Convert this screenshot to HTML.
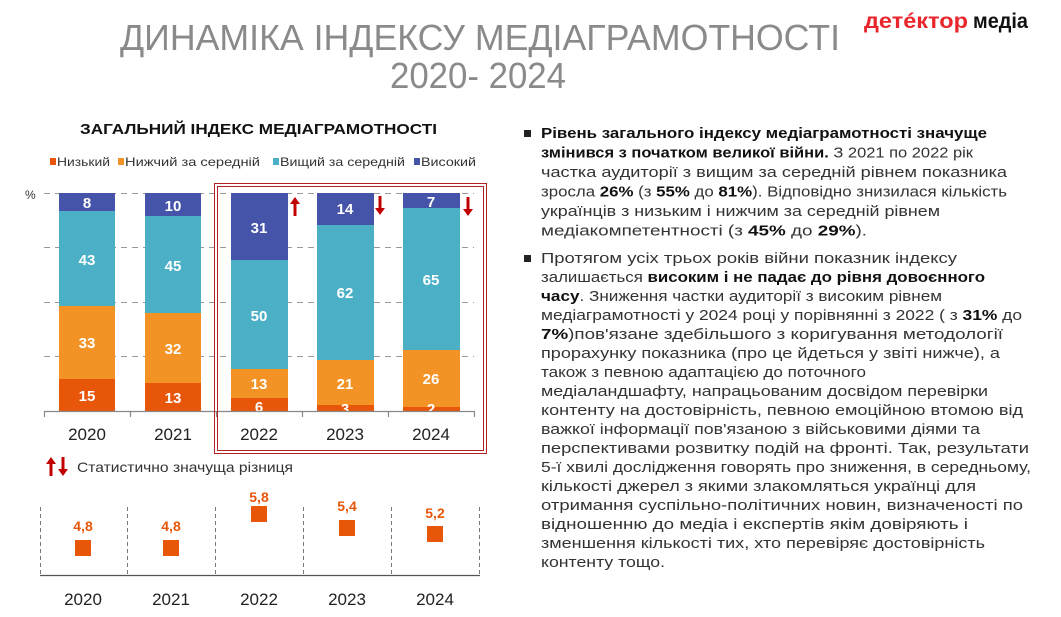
<!DOCTYPE html>
<html><head><meta charset="utf-8"><style>
html,body{margin:0;padding:0;background:#fff;}
svg{display:block;font-family:"Liberation Sans",sans-serif;}
</style></head><body>
<svg width="1061" height="617" viewBox="0 0 1061 617" xmlns="http://www.w3.org/2000/svg">
<!-- Title -->
<text x="120" y="50" font-size="36" fill="#8a8a8a" textLength="720" lengthAdjust="spacingAndGlyphs">ДИНАМІКА ІНДЕКСУ МЕДІАГРАМОТНОСТІ</text>
<text x="390" y="88" font-size="36" fill="#8a8a8a" textLength="176" lengthAdjust="spacingAndGlyphs">2020- 2024</text>
<text x="864" y="28" font-size="21" font-weight="bold" fill="#e8262b" textLength="104" lengthAdjust="spacingAndGlyphs">детéктор</text>
<text x="973" y="28" font-size="21" font-weight="bold" fill="#111" textLength="55" lengthAdjust="spacingAndGlyphs">медіа</text>

<text x="80" y="134" font-size="15" font-weight="bold" fill="#111" textLength="357" lengthAdjust="spacingAndGlyphs">ЗАГАЛЬНИЙ ІНДЕКС МЕДІАГРАМОТНОСТІ</text>
<!-- legend -->
<g font-size="12" fill="#333">
<rect x="50" y="158" width="6" height="7" fill="#e8560a"/><text x="57" y="166" textLength="53" lengthAdjust="spacingAndGlyphs">Низький</text>
<rect x="118" y="158" width="6" height="7" fill="#f39325"/><text x="125" y="166" textLength="135" lengthAdjust="spacingAndGlyphs">Нижчий за середній</text>
<rect x="273" y="158" width="6" height="7" fill="#4bb0c6"/><text x="280" y="166" textLength="125" lengthAdjust="spacingAndGlyphs">Вищий за середній</text>
<rect x="414" y="158" width="6" height="7" fill="#4553a8"/><text x="421" y="166" textLength="55" lengthAdjust="spacingAndGlyphs">Високий</text>
</g>
<text x="25" y="199" font-size="12" fill="#333">%</text>
<!-- gridlines -->
<g stroke="#999" stroke-dasharray="6,5" stroke-width="1">
<line x1="44" y1="193.5" x2="474" y2="193.5"/>
<line x1="44" y1="247.5" x2="474" y2="247.5"/>
<line x1="44" y1="302.5" x2="474" y2="302.5"/>
<line x1="44" y1="356.5" x2="474" y2="356.5"/>
</g>
<!-- bars -->
<g>
<rect x="59" y="193" width="56" height="18" fill="#4553a8"/><rect x="59" y="211" width="56" height="95" fill="#4bb0c6"/><rect x="59" y="306" width="56" height="73" fill="#f39325"/><rect x="59" y="379" width="56" height="32" fill="#e8560a"/>
<rect x="145" y="193" width="56" height="23" fill="#4553a8"/><rect x="145" y="216" width="56" height="97" fill="#4bb0c6"/><rect x="145" y="313" width="56" height="70" fill="#f39325"/><rect x="145" y="383" width="56" height="28" fill="#e8560a"/>
<rect x="231" y="193" width="57" height="67" fill="#4553a8"/><rect x="231" y="260" width="57" height="109" fill="#4bb0c6"/><rect x="231" y="369" width="57" height="29" fill="#f39325"/><rect x="231" y="398" width="57" height="13" fill="#e8560a"/>
<rect x="317" y="193" width="57" height="32" fill="#4553a8"/><rect x="317" y="225" width="57" height="135" fill="#4bb0c6"/><rect x="317" y="360" width="57" height="45" fill="#f39325"/><rect x="317" y="405" width="57" height="6" fill="#e8560a"/>
<rect x="403" y="193" width="57" height="15" fill="#4553a8"/><rect x="403" y="208" width="57" height="142" fill="#4bb0c6"/><rect x="403" y="350" width="57" height="57" fill="#f39325"/><rect x="403" y="407" width="57" height="4" fill="#e8560a"/>
</g>
<g font-size="15" font-weight="bold" fill="#fff" text-anchor="middle">
<text x="87" y="208">8</text><text x="87" y="265">43</text><text x="87" y="348">33</text><text x="87" y="401">15</text>
<text x="173" y="211">10</text><text x="173" y="271">45</text><text x="173" y="354">32</text><text x="173" y="403">13</text>
<text x="259" y="233">31</text><text x="259" y="321">50</text><text x="259" y="389">13</text><text x="259" y="412">6</text>
<text x="345" y="214">14</text><text x="345" y="298">62</text><text x="345" y="389">21</text><text x="345" y="414">3</text>
<text x="431" y="207">7</text><text x="431" y="285">65</text><text x="431" y="384">26</text><text x="431" y="414">2</text>
</g>
<g stroke="#888" stroke-width="1.2">
<line x1="44" y1="411.5" x2="474" y2="411.5"/>
<line x1="44.5" y1="411" x2="44.5" y2="417"/><line x1="130.5" y1="411" x2="130.5" y2="417"/><line x1="216.5" y1="411" x2="216.5" y2="417"/><line x1="302.5" y1="411" x2="302.5" y2="417"/><line x1="388.5" y1="411" x2="388.5" y2="417"/><line x1="474.5" y1="411" x2="474.5" y2="417"/>
</g>
<g font-size="17" fill="#222" text-anchor="middle">
<text x="87" y="440">2020</text><text x="173" y="440">2021</text><text x="259" y="440">2022</text><text x="345" y="440">2023</text><text x="431" y="440">2024</text>
</g>
<!-- red box -->
<rect x="214.5" y="183.5" width="272" height="270" fill="none" stroke="#b22222" stroke-width="1"/>
<rect x="217.5" y="186.5" width="266" height="264" fill="none" stroke="#b22222" stroke-width="1"/>
<!-- arrows -->
<g fill="#c00000">
<path d="M295 197 l-5 7 h3.5 v12 h3 v-12 h3.5z"/>
<path d="M380 215 l-5 -7 h3.5 v-12 h3 v12 h3.5z"/>
<path d="M468 216 l-5 -7 h3.5 v-12 h3 v12 h3.5z"/>
<path d="M51 457 l-5 7 h3.5 v12 h3 v-12 h3.5z"/>
<path d="M63 476 l-5 -7 h3.5 v-12 h3 v12 h3.5z"/>
</g>
<text x="77" y="472" font-size="14" fill="#333" textLength="216" lengthAdjust="spacingAndGlyphs">Статистично значуща різниця</text>
<!-- bottom chart -->
<g stroke="#777" stroke-dasharray="4,3" stroke-width="1">
<line x1="40.5" y1="507" x2="40.5" y2="575"/><line x1="127.5" y1="507" x2="127.5" y2="575"/><line x1="215.5" y1="507" x2="215.5" y2="575"/><line x1="303.5" y1="507" x2="303.5" y2="575"/><line x1="391.5" y1="507" x2="391.5" y2="575"/><line x1="479.5" y1="507" x2="479.5" y2="575"/>
</g>
<line x1="40" y1="575.5" x2="480" y2="575.5" stroke="#555" stroke-width="1.2"/>
<g fill="#e8560a">
<rect x="75" y="540" width="16" height="16"/><rect x="163" y="540" width="16" height="16"/><rect x="251" y="506" width="16" height="16"/><rect x="339" y="520" width="16" height="16"/><rect x="427" y="526" width="16" height="16"/>
</g>
<g font-size="14" font-weight="bold" fill="#e8560a" text-anchor="middle">
<text x="83" y="531">4,8</text><text x="171" y="531">4,8</text><text x="259" y="502">5,8</text><text x="347" y="511">5,4</text><text x="435" y="518">5,2</text>
</g>
<g font-size="17" fill="#222" text-anchor="middle">
<text x="83" y="605">2020</text><text x="171" y="605">2021</text><text x="259" y="605">2022</text><text x="347" y="605">2023</text><text x="435" y="605">2024</text>
</g>
<!-- right text -->
<rect x="524" y="130" width="7" height="7" fill="#222"/>
<rect x="524" y="255" width="7" height="7" fill="#222"/>
<g font-size="15" fill="#333" lengthAdjust="spacingAndGlyphs">
<text x="541" y="138" textLength="446" lengthAdjust="spacingAndGlyphs" font-weight="bold" fill="#111">Рівень загального індексу медіаграмотності значуще</text>
<text x="541" y="157.5" textLength="432" lengthAdjust="spacingAndGlyphs"><tspan font-weight="bold" fill="#111">змінився з початком великої війни.</tspan> З 2021 по 2022 рік</text>
<text x="541" y="177" textLength="466" lengthAdjust="spacingAndGlyphs">частка аудиторії з вищим за середній рівнем показника</text>
<text x="541" y="196.5" textLength="466" lengthAdjust="spacingAndGlyphs">зросла <tspan font-weight="bold" fill="#111">26%</tspan> (з <tspan font-weight="bold" fill="#111">55%</tspan> до <tspan font-weight="bold" fill="#111">81%</tspan>). Відповідно знизилася кількість</text>
<text x="541" y="216" textLength="399" lengthAdjust="spacingAndGlyphs">українців з низьким і нижчим за середній рівнем</text>
<text x="541" y="235.5" textLength="326" lengthAdjust="spacingAndGlyphs">медіакомпетентності (з <tspan font-weight="bold" fill="#111">45%</tspan> до <tspan font-weight="bold" fill="#111">29%</tspan>).</text>
<text x="541" y="263" textLength="416" lengthAdjust="spacingAndGlyphs">Протягом усіх трьох років війни показник індексу</text>
<text x="541" y="282" textLength="444" lengthAdjust="spacingAndGlyphs">залишається <tspan font-weight="bold" fill="#111">високим і не падає до рівня довоєнного</tspan></text>
<text x="541" y="301" textLength="401" lengthAdjust="spacingAndGlyphs"><tspan font-weight="bold" fill="#111">часу</tspan>. Зниження частки аудиторії з високим рівнем</text>
<text x="541" y="320" textLength="481" lengthAdjust="spacingAndGlyphs">медіаграмотності у 2024 році у порівнянні з 2022  ( з <tspan font-weight="bold" fill="#111">31%</tspan> до</text>
<text x="541" y="339" textLength="462" lengthAdjust="spacingAndGlyphs"><tspan font-weight="bold" fill="#111">7%</tspan>)пов'язане здебільшого з коригування методології</text>
<text x="541" y="358" textLength="459" lengthAdjust="spacingAndGlyphs">прорахунку показника (про це йдеться у звіті нижче), а</text>
<text x="541" y="377" textLength="325" lengthAdjust="spacingAndGlyphs">також з певною адаптацією до поточного</text>
<text x="541" y="396" textLength="447" lengthAdjust="spacingAndGlyphs">медіаландшафту, напрацьованим досвідом перевірки</text>
<text x="541" y="415" textLength="482" lengthAdjust="spacingAndGlyphs">контенту на достовірність, певною емоційною втомою від</text>
<text x="541" y="434" textLength="439" lengthAdjust="spacingAndGlyphs">важкої інформації пов'язаною з військовими діями та</text>
<text x="541" y="453" textLength="488" lengthAdjust="spacingAndGlyphs">перспективами розвитку подій на фронті.  Так, результати</text>
<text x="541" y="472" textLength="490" lengthAdjust="spacingAndGlyphs">5-ї хвилі дослідження говорять про зниження, в середньому,</text>
<text x="541" y="491" textLength="435" lengthAdjust="spacingAndGlyphs">кількості джерел з якими злакомляться українці для</text>
<text x="541" y="510" textLength="482" lengthAdjust="spacingAndGlyphs">отримання суспільно-політичних новин, визначеності по</text>
<text x="541" y="529" textLength="427" lengthAdjust="spacingAndGlyphs">відношенню до медіа і експертів якім довіряють і</text>
<text x="541" y="548" textLength="444" lengthAdjust="spacingAndGlyphs">зменшення кількості тих, хто перевіряє достовірність</text>
<text x="541" y="567" textLength="124" lengthAdjust="spacingAndGlyphs">контенту тощо.</text>
</g>
</svg>
</body></html>
